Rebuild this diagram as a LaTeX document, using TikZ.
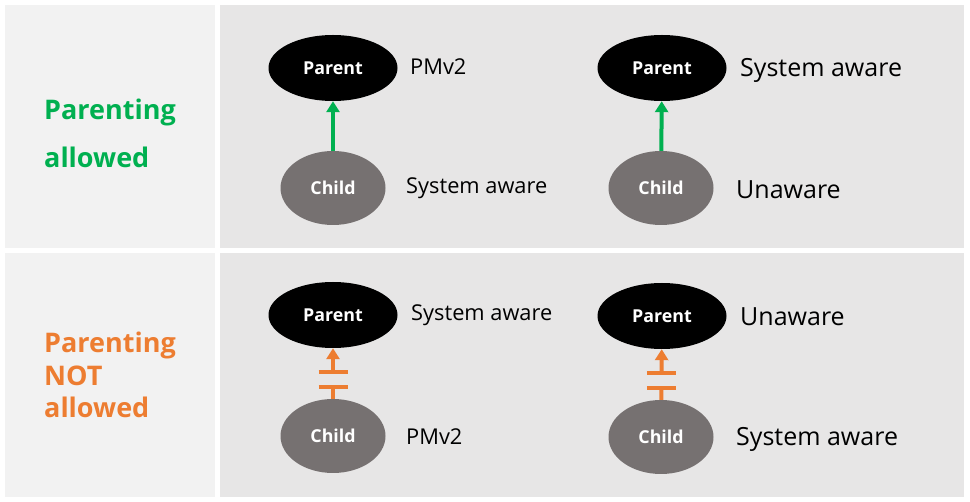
\documentclass[tikz,border=0pt]{standalone}
\usepackage{fontspec}
\setmainfont{Open Sans}
\usetikzlibrary{arrows.meta,shapes.geometric}
\definecolor{okgreen}{HTML}{00B050}
\definecolor{nogo}{HTML}{ED7D31}
\definecolor{sidegray}{HTML}{F2F2F2}
\definecolor{panelgray}{HTML}{E7E6E6}
\definecolor{childgray}{HTML}{767171}
\begin{document}
\begin{tikzpicture}
    [
    x=1pt, y=-1pt,
    parent/.style={ellipse,fill=black,text=white,inner sep=0pt,minimum width=129pt,minimum height=66pt,font=\bfseries\fontsize{17.8}{20}\selectfont},
    child/.style={ellipse,fill=childgray,text=white,inner sep=0pt,minimum width=105pt,minimum height=74pt,font=\bfseries\fontsize{17.8}{20}\selectfont},
    small/.style={anchor=west,inner sep=0pt,font=\fontsize{21.8}{24}\selectfont},
    big/.style={anchor=west,inner sep=0pt,font=\fontsize{25}{28}\selectfont},
    heading/.style={anchor=base west,inner sep=0pt,align=left,font=\bfseries\fontsize{27}{48}\selectfont},
    allowed/.style={draw=okgreen,line width=4pt,-{Triangle[length=11pt,width=13pt]}},
    blocked/.style={draw=nogo,line width=4pt,-{Triangle[length=11pt,width=13pt]}},
    gap/.style={fill=panelgray,inner sep=0pt,minimum width=25pt,minimum height=11pt},
    bar/.style={draw=nogo,line width=4.5pt}
    ]
    \fill [white] (0,0) rectangle (970,502);
    \useasboundingbox (0,0) rectangle (970,502);
    % panels
    \fill [sidegray] (5,5) rectangle (215,248);
    \fill [sidegray] (5,253) rectangle (215,497);
    \fill [panelgray] (220,5) rectangle (964,248);
    \fill [panelgray] (220,253) rectangle (964,497);
    % row headings
    \node (ok) at (44,168) [heading, text=okgreen] {Parenting\\allowed};
    \node (notok) at (44,418) [heading, text=nogo, font=\bfseries\fontsize{27}{32.5}\selectfont] {Parenting\\NOT\\allowed};
    % parenting allowed
    \node (p1) at (333,68) [parent] {Parent};
    \node (c1) at (333,188) [child] {Child};
    \node (p2) at (662,68) [parent] {Parent};
    \node (c2) at (661,188) [child] {Child};
    \node (p1t) at (410,67) [small] {PMv2};
    \node (c1t) at (406,188) [small] {System aware};
    \node (p2t) at (740,70) [big] {System aware};
    \node (c2t) at (736,190) [big] {Unaware};
    \draw [allowed] (c1) to (p1);
    \draw [allowed] (c2) to (p2);
    % parenting not allowed
    \node (p3) at (333,315) [parent] {Parent};
    \node (c3) at (333,436) [child] {Child};
    \node (p4) at (662,316) [parent] {Parent};
    \node (c4) at (661,437) [child] {Child};
    \node (p3t) at (411,315) [small] {System aware};
    \node (c3t) at (406,437) [small] {PMv2};
    \node (p4t) at (740,317) [big] {Unaware};
    \node (c4t) at (736,439) [big] {System aware};
    \draw [blocked] (c3) to node [pos=0.38, gap] (g3) {} (p3);
    \draw [blocked] (c4) to node [pos=0.38, gap] (g4) {} (p4);
    \draw [bar] (g3.north west) -- (g3.north east);
    \draw [bar] (g3.south west) -- (g3.south east);
    \draw [bar] (g4.north west) -- (g4.north east);
    \draw [bar] (g4.south west) -- (g4.south east);
\end{tikzpicture}
\end{document}
